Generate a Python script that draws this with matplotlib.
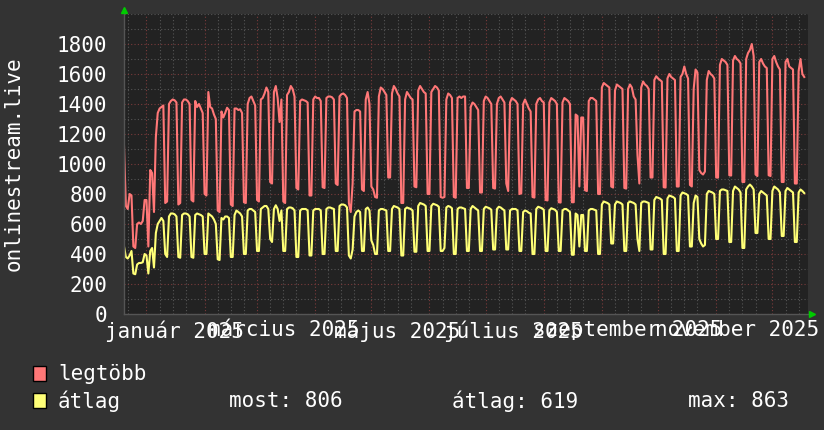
import numpy as np
import pandas as pd
import matplotlib
matplotlib.use('Agg')
import matplotlib.pyplot as plt
import matplotlib.dates as mdates
from matplotlib.ticker import MultipleLocator
from matplotlib.patches import Rectangle

# daily values, starting on Friday 2024-12-20
start_day = '2024-12-20'

legtobb = [
    1120, 720, 700,
    800, 790, 450, 440, 600, 610, 600,
    620, 760, 760, 450, 960, 940, 680,
    1180, 1340, 1370, 1380, 1390, 740, 750,
    1400, 1420, 1430, 1425, 1410, 730, 740,
    1410, 1430, 1430, 1420, 1400, 760, 750,
    1420, 1380, 1400, 1370, 1340, 800, 790,
    1480, 1380, 1370, 1330, 1300, 690, 680,
    1350, 1310, 1340, 1375, 1360, 730, 720,
    1370, 1370, 1360, 1365, 1340, 745, 740,
    1400, 1440, 1450, 1420, 1390, 760, 750,
    1430, 1440, 1470, 1510, 1480, 880, 870,
    1480, 1520, 1440, 1280, 1430, 750, 740,
    1460, 1480, 1520, 1500, 1450, 840, 830,
    1420, 1430, 1425, 1420, 1410, 790, 790,
    1430, 1450, 1440, 1440, 1420, 845, 840,
    1440, 1450, 1450, 1445, 1430, 870, 860,
    1450, 1465, 1470, 1460, 1440, 740, 680,
    870, 1350, 1360, 1360, 1350, 830, 820,
    1430, 1480, 1400, 850, 830, 780, 775,
    1450, 1510, 1500, 1480, 1460, 910, 910,
    1470, 1520, 1500, 1470, 1450, 740, 740,
    1430, 1480, 1460, 1440, 1430, 850, 845,
    1490, 1520, 1500, 1480, 1470, 800, 800,
    1480, 1500, 1520, 1510, 1490, 780, 775,
    780, 1430, 1470, 1460, 1440, 780, 775,
    1440, 1450, 1440, 1450, 1450, 840, 840,
    1380, 1410, 1400, 1380, 1360, 810, 810,
    1420, 1450, 1440, 1420, 1400, 840, 836,
    1400, 1440, 1450, 1430, 1410, 870, 820,
    1410, 1440, 1430, 1420, 1400, 800, 805,
    1400, 1430, 1400, 1370, 1350, 780, 776,
    1400, 1430, 1440, 1420, 1410, 760, 757,
    1410, 1440, 1430, 1420, 1400, 745, 743,
    1410, 1440, 1430, 1420, 1400, 745, 745,
    1330, 1320, 850, 1310, 1310, 825, 820,
    1420, 1440, 1440, 1430, 1420, 800, 800,
    1510, 1540, 1530, 1520, 1510, 850, 843,
    1490, 1530, 1520, 1510, 1500, 840, 836,
    1500, 1530, 1510, 1450, 1430, 1060, 870,
    1510, 1550, 1530, 1520, 1500, 910, 910,
    1560, 1585, 1570, 1560, 1550, 845, 843,
    1570, 1600, 1580, 1570, 1560, 850, 850,
    1580, 1600, 1650, 1600, 1570, 860, 850,
    1500, 1630, 1610, 960, 940, 930, 950,
    1560, 1620, 1600, 1590, 1570, 910, 909,
    1660, 1700, 1690, 1680, 1660, 925, 923,
    1690, 1720, 1700, 1690, 1670, 880, 880,
    1700, 1740, 1760, 1800, 1720, 930, 920,
    1680, 1700, 1670, 1650, 1640, 925, 920,
    1700, 1720, 1680, 1650, 1630, 880, 880,
    1680, 1700, 1650, 1640, 1630, 870, 870,
    1620, 1700, 1600, 1580,
]

atlag = [
    450, 380, 370,
    390, 420, 270, 265, 330, 340, 340,
    345, 400, 390, 270, 420, 440, 310,
    540, 600, 620, 640, 620, 400, 380,
    650, 670, 670, 665, 650, 380, 375,
    660, 670, 670, 665, 650, 380, 375,
    660, 670, 665, 660, 650, 400, 400,
    670, 660, 650, 630, 600, 365, 360,
    640, 630, 650, 650, 640, 380, 380,
    660, 690, 680, 670, 650, 400, 400,
    690, 700, 700, 690, 680, 420, 420,
    700, 710, 720, 720, 700, 500, 480,
    700, 725, 700, 620, 690, 420, 420,
    700, 710, 710, 705, 690, 380, 380,
    690, 700, 700, 700, 690, 390, 390,
    690, 700, 700, 700, 690, 400, 400,
    700, 710, 710, 705, 700, 420, 420,
    720, 730, 730, 725, 710, 390, 370,
    430, 650, 680, 690, 680, 420, 420,
    700, 710, 690, 490, 460, 400, 400,
    690, 700, 700, 695, 690, 420, 420,
    700, 720, 715, 710, 700, 390, 390,
    700, 710, 705, 700, 690, 415, 415,
    720, 740, 735, 730, 720, 420, 420,
    720, 735, 730, 725, 715, 420, 420,
    440, 710, 720, 715, 705, 400, 400,
    700, 710, 710, 705, 700, 420, 420,
    700, 720, 710, 700, 690, 420, 420,
    700, 715, 710, 705, 695, 430, 430,
    700, 715, 710, 700, 690, 430, 430,
    690, 700, 700, 700, 690, 420, 420,
    680, 690, 685, 675, 670, 400, 400,
    700, 715, 710, 705, 695, 420, 420,
    690, 705, 700, 695, 680, 420, 420,
    690, 700, 700, 690, 680, 395, 395,
    670, 660, 450, 660, 660, 420, 420,
    690, 700, 700, 695, 690, 400, 400,
    730, 750, 745, 740, 730, 470, 470,
    730, 750, 745, 740, 730, 420, 420,
    740, 750, 745, 740, 730, 500, 420,
    740, 750, 750, 745, 740, 430, 430,
    760, 780, 775, 770, 760, 400, 400,
    770, 790, 785, 780, 770, 420, 420,
    790, 810, 805, 800, 790, 450, 450,
    740, 790, 780, 500, 470, 450, 460,
    800, 820, 815, 810, 800, 500, 500,
    820, 830, 830, 825, 820, 480, 480,
    820, 850, 840, 830, 810, 440, 440,
    830, 850, 863, 850, 830, 540, 540,
    800, 820, 810, 800, 790, 500, 500,
    820, 850, 840, 830, 810, 520, 520,
    820, 840, 830, 820, 810, 480, 480,
    810, 830, 820, 806,
]

y_ticks = [0, 200, 400, 600, 800, 1000, 1200, 1400, 1600, 1800]
x_labels = ['január 2025', 'március 2025', 'május 2025',
            'július 2025', 'szeptember 2025', 'november 2025']
x_label_dates = ['2025-01-16', '2025-03-15', '2025-05-15',
                 '2025-07-16', '2025-09-15', '2025-11-12']
series_names = ['legtöbb', 'átlag']
stats = ['most: 806', 'átlag: 619', 'max: 863']

RED = '#ff7777'
YELLOW = '#ffff77'
FONT = 'DejaVu Sans Mono'

days = pd.date_range(start_day, periods=len(legtobb), freq='D')

W, H = 824, 430
fig = plt.figure(figsize=(W / 100, H / 100), dpi=100)
fig.patch.set_facecolor('#333333')

# plot area in pixels: x 124..808, y 14..314
ax = fig.add_axes([124 / W, 1 - 314 / H, 684 / W, 300 / H])
ax.set_facecolor('#222222')

ax.set_xlim(pd.Timestamp('2024-12-20'), pd.Timestamp('2025-12-20'))
ax.set_ylim(0, 2000)

# grid: months red, 8/15/22 grey; y 200 red, 100 grey
ax.xaxis.set_major_locator(mdates.MonthLocator())
ax.xaxis.set_minor_locator(mdates.DayLocator(bymonthday=[8, 15, 22]))
ax.set_yticks(y_ticks)
ax.set_yticklabels([str(v) for v in y_ticks])
ax.yaxis.set_minor_locator(MultipleLocator(100))
ax.set_xticklabels([])

ax.grid(which='minor', color='#555555', linestyle=(0, (1, 2)), lw=0.8)
ax.grid(which='major', color='#7a3b3b', linestyle=(0, (1, 2)), lw=0.8)
ax.set_axisbelow(True)

ax.tick_params(which='both', length=0)
ax.tick_params(axis='y', colors='white', labelsize=15, pad=12)
for lab in ax.get_yticklabels():
    lab.set_family(FONT)

for s in ['top', 'right']:
    ax.spines[s].set_visible(False)
for s in ['left', 'bottom']:
    ax.spines[s].set_color('#555555')
    ax.spines[s].set_linewidth(1)

ax.plot(days, legtobb, color=RED, lw=1.5)
ax.plot(days, atlag, color=YELLOW, lw=1.5)

for lab, d in zip(x_labels, x_label_dates):
    ax.text(pd.Timestamp(d), -0.02, lab, transform=ax.get_xaxis_transform(),
            ha='center', va='top', color='white', fontsize=15, family=FONT)

# vertical title on the left
fig.text(14 / W, 1 - 164 / H, 'onlinestream.live', rotation=90,
         color='white', fontsize=15, family=FONT, ha='center', va='center')

# green arrow heads at the axis ends
fig.lines.append(plt.Line2D([124 / W], [1 - 10 / H], marker='^', ms=5,
                            color='#00cc00', transform=fig.transFigure))
fig.lines.append(plt.Line2D([812 / W], [1 - 314 / H], marker='>', ms=5,
                            color='#00cc00', transform=fig.transFigure))

# legend
for i, (name, col) in enumerate(zip(series_names, [RED, YELLOW])):
    yc = 374 + i * 27
    fig.patches.append(Rectangle((33 / W, 1 - (yc + 7) / H), 13 / W, 15 / H,
                                 facecolor=col, edgecolor='black', lw=1,
                                 transform=fig.transFigure))
    fig.text(58 / W, 1 - yc / H, name, color='white', fontsize=15,
             family=FONT, va='center', ha='left')

for txt, xp in zip(stats, [229, 452, 688]):
    fig.text(xp / W, 1 - 401 / H, txt, color='white', fontsize=15,
             family=FONT, va='center', ha='left')

fig.savefig('out.png', dpi=100, facecolor=fig.get_facecolor())
